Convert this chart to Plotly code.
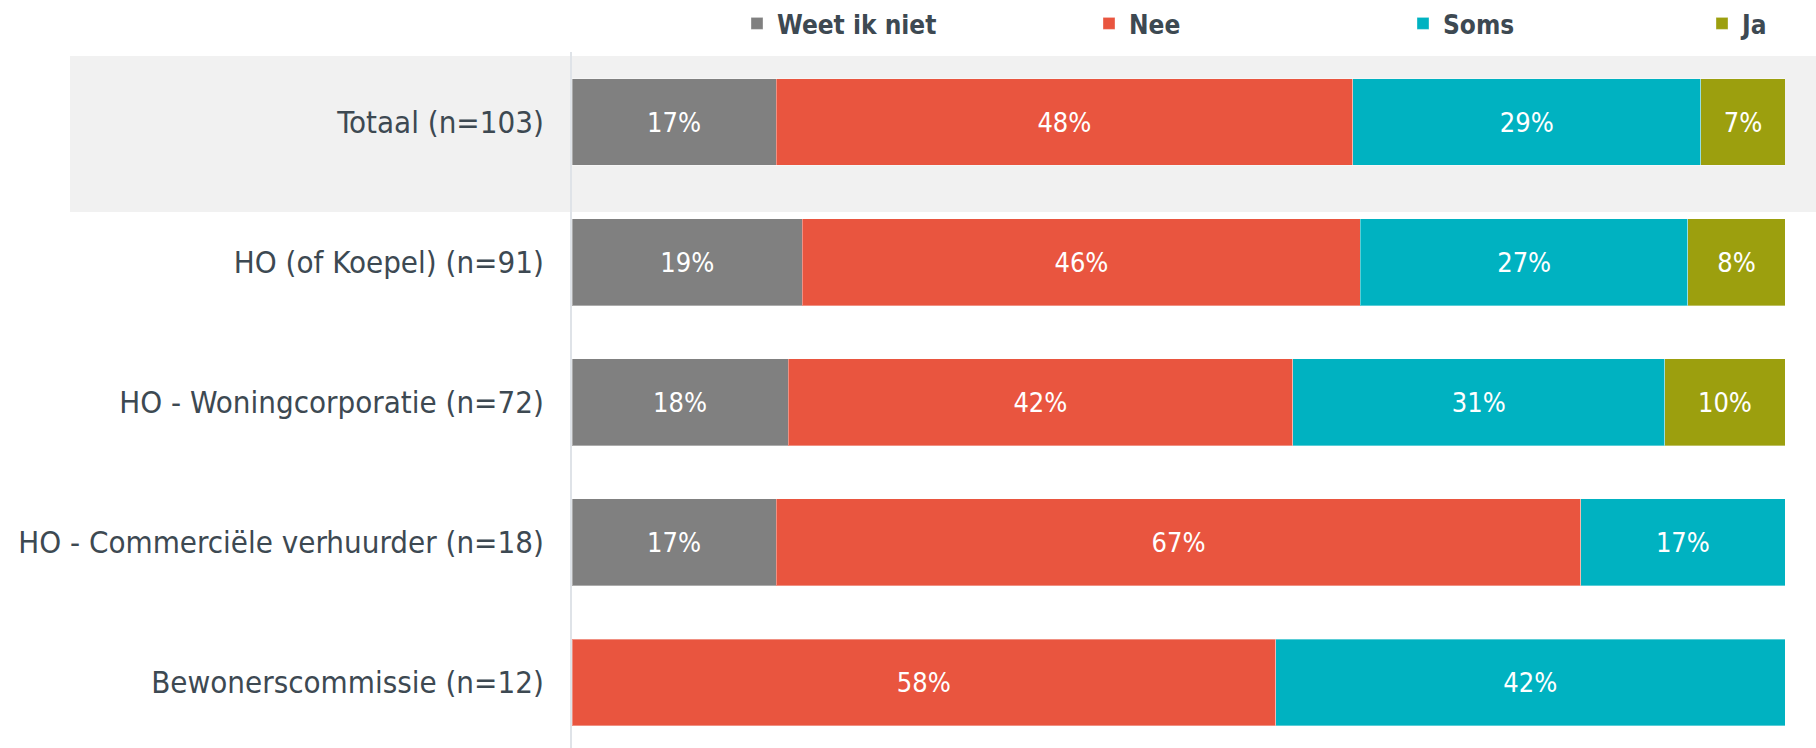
import plotly.graph_objects as go

# Survey answers per respondent group (percent of group)
categories = [
    "Totaal (n=103)",
    "HO (of Koepel) (n=91)",
    "HO - Woningcorporatie (n=72)",
    "HO - Commerciële verhuurder (n=18)",
    "Bewonerscommissie (n=12)",
]
weet_ik_niet = [17, 19, 18, 17, None]
nee = [48, 46, 42, 67, 58]
soms = [29, 27, 31, 17, 42]
ja = [7, 8, 10, None, None]

series = [
    ("Weet ik niet", weet_ik_niet, "#808080", "legend"),
    ("Nee", nee, "#E9553F", "legend2"),
    ("Soms", soms, "#00B2C1", "legend3"),
    ("Ja", ja, "#9C9F0E", "legend4"),
]

FONT = "DejaVu Sans Condensed, DejaVu Sans, sans-serif"
TEXT_COLOR = "#3d4952"

W, H = 1816, 748
L, R, T, B = 572, 31, 52, 0
PW, PH = W - L - R, H - T - B

def px_x(px):
    return (px - L) / PW

def px_y(py):
    return (H - B - py) / PH

fig = go.Figure()
ypos = list(range(len(categories)))
for name, vals, color, leg in series:
    fig.add_trace(go.Bar(
        name=name,
        y=ypos,
        x=vals,
        orientation="h",
        marker=dict(color=color, line=dict(color="rgba(255,255,255,0.35)", width=1)),
        text=[f"{v}%" if v else "" for v in vals],
        textposition="inside",
        insidetextanchor="middle",
        textangle=0,
        textfont=dict(family=FONT, size=27, color="white"),
        hoverinfo="skip",
        legend=leg,
    ))

# Highlight band behind the total row
fig.add_shape(
    type="rect", xref="paper", yref="paper",
    x0=px_x(70), x1=px_x(1816), y0=px_y(212), y1=px_y(56),
    fillcolor="#f1f1f1", line=dict(width=0), layer="below",
)

legend_common = dict(
    orientation="h", yanchor="middle", y=px_y(23), xanchor="left",
    font=dict(family=FONT, size=26, color=TEXT_COLOR, weight="bold"),
    bgcolor="rgba(0,0,0,0)", borderwidth=0,
)
legend_x = {"legend": 737, "legend2": 1089, "legend3": 1403, "legend4": 1702}

fig.update_layout(
    width=W, height=H,
    margin=dict(l=L, r=R, t=T, b=B, pad=0),
    barmode="stack",
    barnorm="percent",
    bargap=0.38,
    plot_bgcolor="rgba(0,0,0,0)",
    paper_bgcolor="white",
    showlegend=True,
    font=dict(family=FONT, color=TEXT_COLOR),
    xaxis=dict(range=[0, 100], visible=False, fixedrange=True),
    yaxis=dict(
        tickvals=ypos, ticktext=categories,
        range=[4.468, -0.5],
        showline=True, linecolor="#dfe3e8", linewidth=2,
        showgrid=False, zeroline=False, ticks="",
        ticklabelstandoff=20,
        tickfont=dict(family=FONT, size=31, color=TEXT_COLOR),
        fixedrange=True,
    ),
    legend=dict(legend_common, x=px_x(legend_x["legend"])),
    legend2=dict(legend_common, x=px_x(legend_x["legend2"])),
    legend3=dict(legend_common, x=px_x(legend_x["legend3"])),
    legend4=dict(legend_common, x=px_x(legend_x["legend4"])),
)

fig.write_html("out.html")
